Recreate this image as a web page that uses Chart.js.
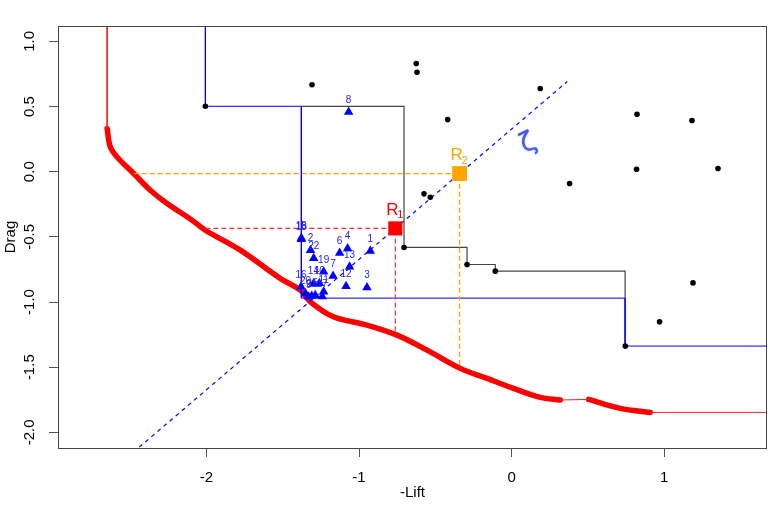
<!DOCTYPE html>
<html>
<head>
<meta charset="utf-8">
<script src="https://cdn.jsdelivr.net/npm/chart.js@4.4.0/dist/chart.umd.min.js"></script>
<style>
  html, body { margin: 0; padding: 0; background: #fff; }
  #wrap { width: 780px; height: 505px; }
</style>
</head>
<body>
<div id="wrap"><canvas id="grafico" width="780" height="505"></canvas></div>
<script>
// axes
const xLimits = [-2.973, 1.674];
const yLimits = [-2.12, 1.118];
const xTicks = [-2, -1, 0, 1];
const yTicks = [-2, -1.5, -1, -0.5, 0, 0.5, 1];
const yTickLabels = ['-2.0', '-1.5', '-1.0', '-0.5', '0.0', '0.5', '1.0'];

// thick red front
const frontX = [-2.651, -2.630, -2.586, -2.477, -2.368, -2.258, -2.094, -2.007, -1.778, -1.516, -1.385, -1.319, -1.168, -0.948, -0.751, -0.554, -0.336, -0.161, 0.013, 0.188, 0.319];
const frontY = [0.331, 0.190, 0.113, -0.014, -0.142, -0.244, -0.372, -0.449, -0.602, -0.819, -0.909, -0.998, -1.113, -1.177, -1.254, -1.369, -1.509, -1.586, -1.663, -1.732, -1.752];
const front2X = [0.505, 0.712, 0.909];
const front2Y = [-1.747, -1.816, -1.847];
// thin red pieces
const frontTopX = [-2.651, -2.651];
const frontTopY = [1.3, 0.331];
const frontGapX = [0.319, 0.505];
const frontGapY = [-1.752, -1.747];
const frontTailX = [0.909, 1.8];
const frontTailY = [-1.847, -1.847];

// step lines
const blueStepX = [-2.007, -2.007, -1.378, -1.378, 0.744, 0.744, 1.8];
const blueStepY = [1.3, 0.502, 0.502, -0.970, -0.970, -1.338, -1.338];
const blackStepX = [-1.378, -0.705, -0.705, -0.292, -0.292, -0.107, -0.107, 0.744, 0.744];
const blackStepY = [0.502, 0.502, -0.581, -0.581, -0.712, -0.712, -0.763, -0.763, -0.970];

// black points
const solX = [-2.007, -1.308, -0.625, -0.620, 0.188, -0.419, 0.822, 1.182, 0.819, 1.353, 0.380, -0.574, -0.533, -0.705, -0.292, -0.107, 1.189, 0.970, 0.745];
const solY = [0.502, 0.667, 0.830, 0.763, 0.638, 0.400, 0.441, 0.393, 0.019, 0.025, -0.090, -0.170, -0.196, -0.581, -0.712, -0.763, -0.853, -1.152, -1.338];

// blue triangles
const triLabels = ['1', '2', '3', '4', '5', '6', '7', '8', '9', '10', '11', '12', '13', '14', '15', '16', '17', '18', '19', '20', '21', '22'];
const triX = [-0.926, -1.318, -0.948, -1.075, -1.287, -1.127, -1.170, -1.068, -1.330, -1.260, -1.232, -1.085, -1.062, -1.299, -1.378, -1.380, -1.241, -1.378, -1.232, -1.351, -1.310, -1.297];
const triY = [-0.608, -0.602, -0.888, -0.589, -0.947, -0.623, -0.801, 0.459, -0.960, -0.855, -0.922, -0.878, -0.730, -0.859, -0.508, -0.883, -0.958, -0.518, -0.768, -0.934, -0.954, -0.665];

// reference points R1, R2
const refNames = ['1', '2'];
const refX = [-0.762, -0.341];
const refY = [-0.435, -0.014];
const refColors = ['#ff0000', '#ffa500'];

const redGuideX = [-2.007, -0.762, -0.762];
const redGuideY = [-0.435, -0.435, -1.232];
const orangeGuideX = [-2.477, -0.341, -0.341];
const orangeGuideY = [-0.014, -0.014, -1.497];

const diagX = [-2.6, 0.365];
const diagY = [-2.273, 0.692];

const swirlX = 0.11;
const swirlY = 0.215;

const fonte = '"Liberation Sans", Arial, sans-serif';

function pts(xs, ys) {
    return xs.map((x, i) => ({ x: x, y: ys[i] }));
}

function linha(xs, ys, cor, largura, extra) {
    return Object.assign({
        data: pts(xs, ys),
        showLine: true,
        borderColor: cor,
        borderWidth: largura,
        pointRadius: 0,
        pointHoverRadius: 0,
        fill: false,
        clip: 0,
    }, extra || {});
}

const textos = {
    id: 'textos',
    afterDatasetsDraw(chart) {
        const ctx = chart.ctx;
        const a = chart.chartArea;
        const sx = chart.scales.x;
        const sy = chart.scales.y;
        ctx.save();

        // moldura
        ctx.strokeStyle = '#444';
        ctx.lineWidth = 1;
        ctx.strokeRect(a.left + 0.5, a.top + 0.5, a.right - a.left - 1, a.bottom - a.top);

        // rotulos do eixo y (girados como no R)
        ctx.fillStyle = '#000';
        ctx.font = '15px ' + fonte;
        ctx.textAlign = 'center';
        ctx.textBaseline = 'middle';
        yTicks.forEach((v, i) => {
            ctx.save();
            ctx.translate(30, sy.getPixelForValue(v));
            ctx.rotate(-Math.PI / 2);
            ctx.fillText(yTickLabels[i], 0, 0);
            ctx.restore();
        });

        // numeros dos triangulos
        ctx.fillStyle = '#2222ff';
        ctx.font = '10px ' + fonte;
        triLabels.forEach((t, i) => {
            ctx.fillText(t, sx.getPixelForValue(triX[i]), sy.getPixelForValue(triY[i]) - 12);
        });

        // R1, R2
        refNames.forEach((n, i) => {
            const px = sx.getPixelForValue(refX[i]);
            const py = sy.getPixelForValue(refY[i]);
            ctx.fillStyle = refColors[i];
            ctx.font = '17px ' + fonte;
            ctx.fillText('R', px - 3, py - 18);
            ctx.font = '11px ' + fonte;
            ctx.fillText(n, px + 5, py - 13);
        });

        // simbolo azul
        ctx.save();
        ctx.translate(sx.getPixelForValue(swirlX), sy.getPixelForValue(swirlY));
        ctx.rotate(-0.45);
        ctx.fillStyle = 'rgba(50,70,235,0.85)';
        ctx.shadowColor = 'rgba(60,80,255,0.6)';
        ctx.shadowBlur = 2;
        ctx.font = '27px "DejaVu Sans", sans-serif';
        ctx.fillText('ζ', 0, 0);
        ctx.restore();

        ctx.restore();
    }
};

const chart = new Chart(document.getElementById('grafico').getContext('2d'), {
    type: 'scatter',
    data: {
        datasets: [
            // quadrados R1 / R2
            {
                data: pts(refX, refY),
                pointStyle: 'rect',
                pointRadius: [10, 10.5],
                backgroundColor: refColors,
                borderColor: refColors,
                borderWidth: 0,
                order: 0,
                clip: 0,
            },
            // triangulos
            {
                data: pts(triX, triY),
                pointStyle: 'triangle',
                pointRadius: 5.5,
                backgroundColor: '#0000ff',
                borderColor: '#0000ff',
                borderWidth: 0,
                order: 1,
                clip: 0,
            },
            // pontos pretos
            {
                data: pts(solX, solY),
                pointStyle: 'circle',
                pointRadius: 2.8,
                backgroundColor: '#000',
                borderWidth: 0,
                order: 2,
                clip: 0,
            },
            linha(redGuideX, redGuideY, '#ff3030', 1.2, { borderDash: [5, 3], order: 3 }),
            linha(orangeGuideX, orangeGuideY, '#ff9a00', 1.3, { borderDash: [5, 3], order: 3 }),
            linha(blackStepX, blackStepY, '#444', 1.2, { order: 4 }),
            linha(blueStepX, blueStepY, '#0000ff', 1, { order: 4 }),
            linha(diagX, diagY, '#0000ff', 1.2, { borderDash: [4, 4], order: 5 }),
            linha(frontTopX, frontTopY, '#ff2020', 1, { order: 6 }),
            linha(frontGapX, frontGapY, '#ff2020', 1, { order: 6 }),
            linha(frontTailX, frontTailY, '#ff2020', 1, { order: 6 }),
            linha(frontX, frontY, '#ff0000', 5.5, { tension: 0.35, borderCapStyle: 'round', borderJoinStyle: 'round', order: 6 }),
            linha(front2X, front2Y, '#ff0000', 5.5, { tension: 0.35, borderCapStyle: 'round', borderJoinStyle: 'round', order: 6 }),
        ]
    },
    options: {
        responsive: false,
        animation: false,
        events: [],
        layout: { padding: { top: 26, right: 13, left: 0, bottom: 0 } },
        plugins: {
            legend: { display: false },
            tooltip: { enabled: false },
        },
        scales: {
            x: {
                type: 'linear',
                min: xLimits[0],
                max: xLimits[1],
                afterBuildTicks: (s) => { s.ticks = xTicks.map(v => ({ value: v })); },
                afterFit: (s) => { s.height = 57; },
                grid: { drawOnChartArea: false, tickLength: 9, color: '#555' },
                border: { display: false },
                ticks: {
                    autoSkip: false,
                    maxRotation: 0,
                    padding: 12,
                    color: '#000',
                    font: { size: 15, family: fonte },
                    callback: (v) => String(v),
                },
                title: {
                    display: true,
                    text: '-Lift',
                    color: '#000',
                    font: { size: 15, family: fonte, lineHeight: 1 },
                    padding: { top: 0, bottom: 5 },
                },
            },
            y: {
                type: 'linear',
                min: yLimits[0],
                max: yLimits[1],
                afterBuildTicks: (s) => { s.ticks = yTicks.map(v => ({ value: v })); },
                afterFit: (s) => { s.width = 58; },
                grid: { drawOnChartArea: false, tickLength: 9, color: '#555' },
                border: { display: false },
                ticks: { display: false },
                title: {
                    display: true,
                    text: 'Drag',
                    color: '#000',
                    font: { size: 15, family: fonte, lineHeight: 1 },
                    padding: { top: 3, bottom: 0 },
                },
            },
        },
    },
    plugins: [textos],
});
</script>
</body>
</html>
